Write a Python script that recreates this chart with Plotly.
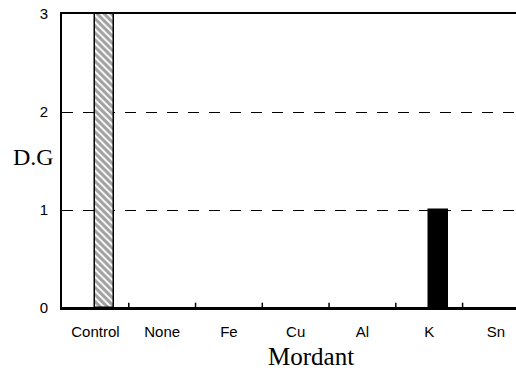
import plotly.graph_objects as go

categories = ["Control", "None", "Fe", "Cu", "Al", "K", "Sn"]
dg_values = [3, 0, 0, 0, 0, 1, 0]
y_ticks = [0, 1, 2, 3]

patterns = ["\\" if c == "Control" else "" for c in categories]

fig = go.Figure()
fig.add_trace(go.Bar(
    x=list(range(len(categories))),
    y=dg_values,
    width=0.29,
    offset=-0.01,
    marker=dict(
        color=["white" if p else "black" for p in patterns],
        line=dict(color="black", width=[1.5 if v > 0 else 0 for v in dg_values]),
        pattern=dict(shape=patterns, fgcolor="black", bgcolor="white", size=5, solidity=0.65),
    ),
    showlegend=False,
))

W, H = 516, 370
ml, mr, mt, mb = 62, 0, 14, 62
plot_w = W - ml - mr
plot_h = H - mt - mb

fig.update_layout(
    width=W, height=H,
    margin=dict(l=ml, r=mr, t=mt, b=mb),
    plot_bgcolor="white", paper_bgcolor="white",
    font=dict(family="Liberation Sans, Arial, sans-serif", size=15, color="black"),
    bargap=0,
    xaxis=dict(
        range=[-0.5, 6.3],
        tickmode="array",
        tickvals=list(range(len(categories))),
        ticktext=categories,
        ticks="", showgrid=False, zeroline=False,
        showline=True, linecolor="black", linewidth=1.5, mirror=True,
        ticklabelstandoff=9,
        automargin=False,
    ),
    yaxis=dict(
        range=[0, 3],
        tickvals=y_ticks,
        ticks="inside", ticklen=5, tickcolor="black",
        showgrid=True, gridcolor="black", gridwidth=1.2, griddash="11px,10px",
        zeroline=False,
        showline=True, linecolor="black", linewidth=2,
        ticklabelstandoff=9,
        automargin=False,
    ),
    annotations=[
        dict(text="D.G", x=(33 - 62) / plot_w, y=(308 - 157) / plot_h,
             xref="paper", yref="paper", showarrow=False,
             xanchor="center", yanchor="middle",
             font=dict(family="Liberation Serif, Times New Roman, serif", size=24)),
        dict(text="Mordant", x=(311 - 62) / plot_w, y=(308 - 356) / plot_h,
             xref="paper", yref="paper", showarrow=False,
             xanchor="center", yanchor="middle",
             font=dict(family="Liberation Serif, Times New Roman, serif", size=25)),
    ],
)

fig.add_shape(type="line", xref="paper", yref="y", x0=0, x1=1, y0=0, y1=0,
              line=dict(color="black", width=2))
for i in range(1, len(categories)):
    fig.add_shape(type="line", xref="x", yref="paper", x0=i - 0.5, x1=i - 0.5,
                  y0=0, y1=0.018, line=dict(color="black", width=1.5))

fig.write_html("out.html", config={"displayModeBar": False},
               post_script="document.body.style.margin='0';")
